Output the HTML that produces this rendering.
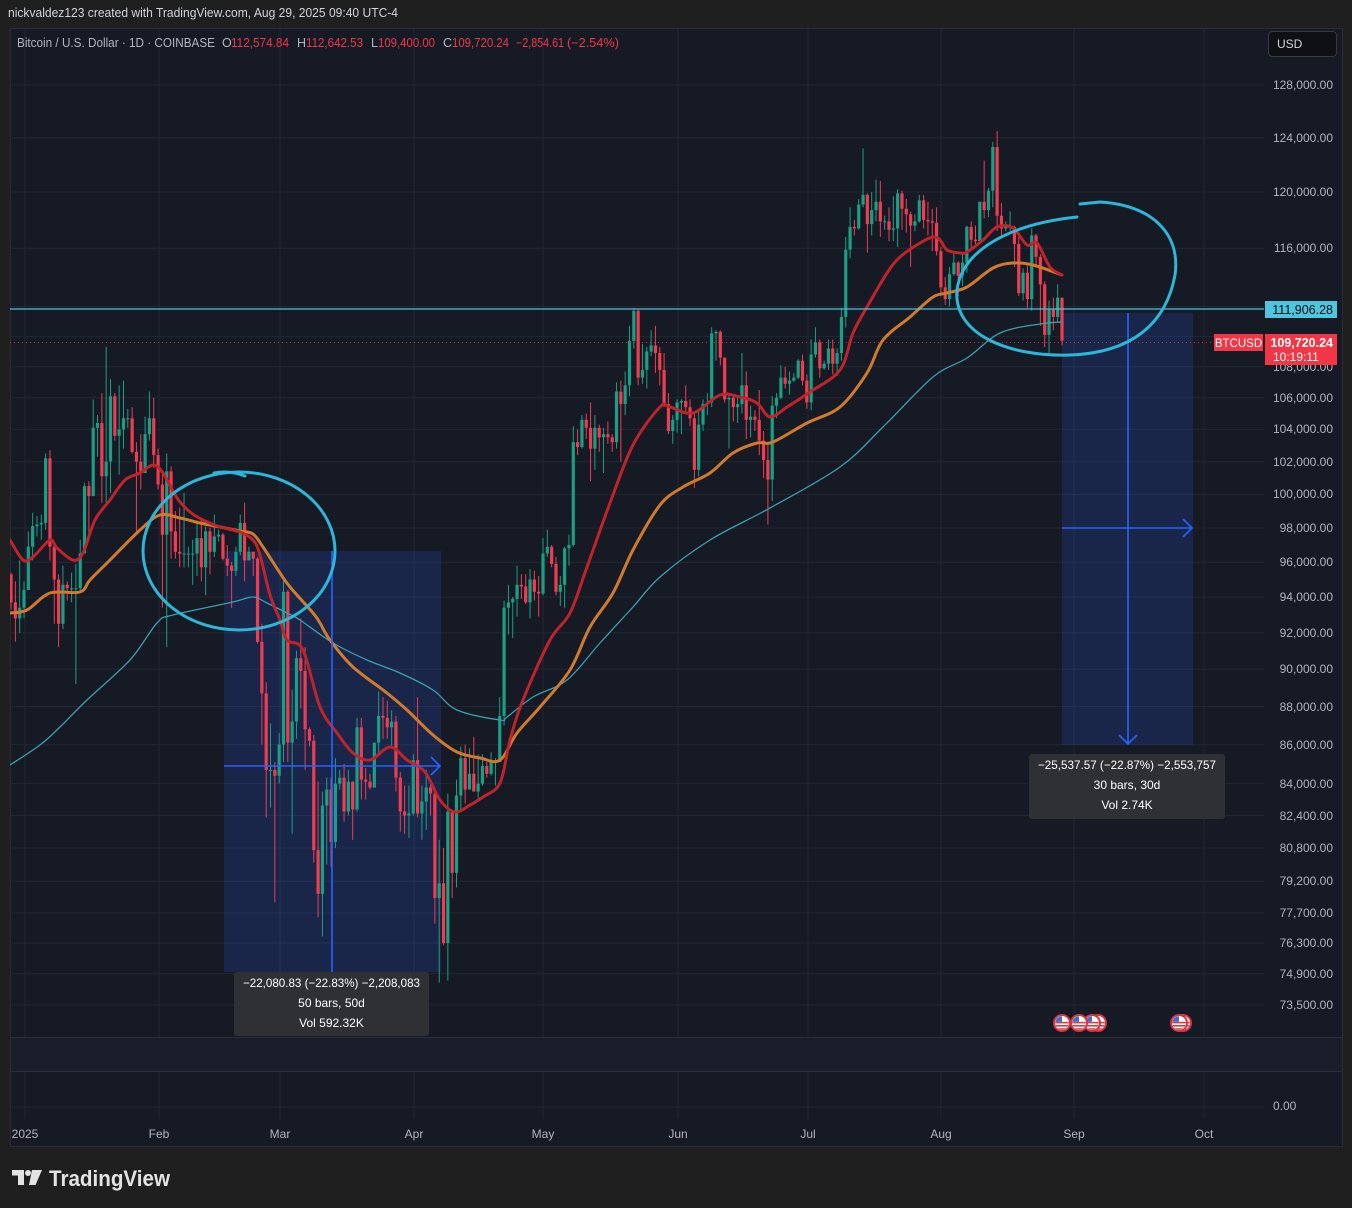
<!DOCTYPE html>
<html><head><meta charset="utf-8">
<style>
html,body{margin:0;padding:0;background:#1f1f1f;}
svg{display:block;}
text{font-family:"Liberation Sans",sans-serif;}
</style></head><body>
<svg id="s" xmlns="http://www.w3.org/2000/svg" width="1352" height="1208" viewBox="0 0 1352 1208">
<defs>
<clipPath id="cp"><rect x="10" y="29" width="1254" height="1008"/></clipPath>
<clipPath id="fc"><circle cx="0" cy="0" r="6.8"/></clipPath>
<g id="flag">
  <circle r="9" fill="#d8343f"/>
  <circle r="7" fill="#ffffff"/>
  <g clip-path="url(#fc)">
    <rect x="-7" y="-1.2" width="14" height="1.6" fill="#e03a3e"/>
    <rect x="-7" y="2" width="14" height="1.6" fill="#e03a3e"/>
    <rect x="-7" y="5.2" width="14" height="1.8" fill="#e03a3e"/>
    <rect x="-7" y="-7" width="7" height="5.8" fill="#3b6fd0"/>
  </g>
</g>
</defs>
<rect width="1352" height="1208" fill="#1f1f1f"/>
<rect x="10.5" y="28.5" width="1332" height="1118" fill="#161a25" stroke="#2a2d36" stroke-width="1"/>
<rect x="11" y="1037" width="1331" height="34" fill="#1a1e2a"/>
<line x1="11" y1="1037.5" x2="1342" y2="1037.5" stroke="#2a2e39"/>
<line x1="11" y1="1071.5" x2="1342" y2="1071.5" stroke="#2a2e39"/>
<g id="grid"></g>
<g clip-path="url(#cp)">
  <rect x="224" y="551" width="217" height="421" fill="rgba(41,98,255,0.17)"/>
  <rect x="1062" y="313" width="131" height="432" fill="rgba(41,98,255,0.17)"/>
  <g id="candles"></g>
  <g id="mas"></g>
  <line x1="10" y1="309" x2="1264" y2="309" stroke="#4ec3dc" stroke-width="1.2"/>
  <line x1="10" y1="342.5" x2="1214" y2="342.5" stroke="#f23645" stroke-width="1" stroke-dasharray="1,3" opacity="0.8"/>
  <line x1="332" y1="551" x2="332" y2="972" stroke="#2962ff" stroke-width="1.6"/>
  <line x1="224" y1="766" x2="440" y2="766" stroke="#2962ff" stroke-width="1.6"/>
  <polyline points="431,757 440,766 431,775" fill="none" stroke="#2962ff" stroke-width="1.6"/>
  <line x1="1128" y1="313" x2="1128" y2="744" stroke="#2962ff" stroke-width="1.6"/>
  <polyline points="1119,735 1128,744 1137,735" fill="none" stroke="#2962ff" stroke-width="1.6"/>
  <line x1="1062" y1="528" x2="1192" y2="528" stroke="#2962ff" stroke-width="1.6"/>
  <polyline points="1183,519 1192,528 1183,537" fill="none" stroke="#2962ff" stroke-width="1.6"/>
  <ellipse cx="239" cy="551" rx="96" ry="79" fill="none" stroke="#2eb6d8" stroke-width="3"/>
  <path d="M214,473 Q230,470 245,476" fill="none" stroke="#2eb6d8" stroke-width="3" stroke-linecap="round"/>
  <path d="M1077,217 C1010,224 962,250 957,290 C953,335 1010,357 1070,355 C1130,353 1166,325 1175,275 C1181,232 1150,205 1100,202 L1080,204" fill="none" stroke="#2eb6d8" stroke-width="3" stroke-linecap="round"/>
</g>

<rect x="234" y="972" width="195" height="64" rx="3" fill="#2f3034"/>
<text x="331.5" y="987" font-size="12" fill="#ffffff" text-anchor="middle" textLength="177" lengthAdjust="spacingAndGlyphs">−22,080.83 (−22.83%) −2,208,083</text>
<text x="331.5" y="1007" font-size="12" fill="#ffffff" text-anchor="middle">50 bars, 50d</text>
<text x="331.5" y="1027" font-size="12" fill="#ffffff" text-anchor="middle">Vol 592.32K</text>

<rect x="1029" y="754" width="196" height="65" rx="3" fill="#2f3034"/>
<text x="1127" y="769" font-size="12" fill="#ffffff" text-anchor="middle" textLength="178" lengthAdjust="spacingAndGlyphs">−25,537.57 (−22.87%) −2,553,757</text>
<text x="1127" y="789" font-size="12" fill="#ffffff" text-anchor="middle">30 bars, 30d</text>
<text x="1127" y="809" font-size="12" fill="#ffffff" text-anchor="middle">Vol 2.74K</text>

<use href="#flag" x="1098" y="1023"/>
<use href="#flag" x="1092" y="1023"/>
<use href="#flag" x="1079" y="1023"/>
<use href="#flag" x="1062" y="1023"/>
<use href="#flag" x="1183" y="1023"/>
<use href="#flag" x="1179" y="1023"/>

<text x="8" y="17" font-size="13" fill="#d1d4dc" textLength="390" lengthAdjust="spacingAndGlyphs">nickvaldez123 created with TradingView.com, Aug 29, 2025 09:40 UTC-4</text>
<g font-size="12.5">
<text x="17" y="47" fill="#b2b5be" textLength="198" lengthAdjust="spacingAndGlyphs">Bitcoin / U.S. Dollar · 1D · COINBASE</text>
<text x="222" y="47" fill="#b2b5be">O</text>
<text x="231" y="47" fill="#f23645" textLength="58" lengthAdjust="spacingAndGlyphs">112,574.84</text>
<text x="297" y="47" fill="#b2b5be">H</text>
<text x="306" y="47" fill="#f23645" textLength="57" lengthAdjust="spacingAndGlyphs">112,642.53</text>
<text x="371" y="47" fill="#b2b5be">L</text>
<text x="378" y="47" fill="#f23645" textLength="57" lengthAdjust="spacingAndGlyphs">109,400.00</text>
<text x="443" y="47" fill="#b2b5be">C</text>
<text x="452" y="47" fill="#f23645" textLength="57" lengthAdjust="spacingAndGlyphs">109,720.24</text>
<text x="516" y="47" fill="#f23645" textLength="48" lengthAdjust="spacingAndGlyphs">−2,854.61</text>
<text x="567" y="47" fill="#f23645" textLength="52" lengthAdjust="spacingAndGlyphs">(−2.54%)</text>
</g>

<rect x="1268.5" y="31.5" width="68" height="25" rx="4" fill="#0f1013" stroke="#3a3b3e"/>
<text x="1277" y="48" font-size="12" fill="#d1d4dc">USD</text>

<g font-size="12" fill="#b2b5be" text-anchor="end">
<text x="1333" y="89">128,000.00</text>
<text x="1333" y="142">124,000.00</text>
<text x="1333" y="196">120,000.00</text>
<text x="1333" y="252">116,000.00</text>
<text x="1333" y="371">108,000.00</text>
<text x="1333" y="402">106,000.00</text>
<text x="1333" y="433">104,000.00</text>
<text x="1333" y="466">102,000.00</text>
<text x="1333" y="498">100,000.00</text>
<text x="1333" y="532">98,000.00</text>
<text x="1333" y="566">96,000.00</text>
<text x="1333" y="601">94,000.00</text>
<text x="1333" y="637">92,000.00</text>
<text x="1333" y="673">90,000.00</text>
<text x="1333" y="711">88,000.00</text>
<text x="1333" y="749">86,000.00</text>
<text x="1333" y="788">84,000.00</text>
<text x="1333" y="820">82,400.00</text>
<text x="1333" y="852">80,800.00</text>
<text x="1333" y="885">79,200.00</text>
<text x="1333" y="917">77,700.00</text>
<text x="1333" y="947">76,300.00</text>
<text x="1333" y="978">74,900.00</text>
<text x="1333" y="1009">73,500.00</text>
</g>
<text x="1273" y="1110" font-size="12" fill="#b2b5be">0.00</text>

<rect x="1265" y="301" width="72" height="17" fill="#4fc6df"/>
<text x="1333" y="314" font-size="12.5" fill="#0b0e14" text-anchor="end">111,906.28</text>
<rect x="1214" y="334" width="49" height="17" fill="#f23645"/>
<text x="1238.5" y="347" font-size="11.5" fill="#ffffff" text-anchor="middle">BTCUSD</text>
<rect x="1265" y="334" width="72" height="31" fill="#f23645"/>
<text x="1333" y="347" font-size="12.5" font-weight="bold" fill="#ffffff" text-anchor="end">109,720.24</text>
<text x="1273" y="361" font-size="12" fill="#ffffff">10:19:11</text>

<g font-size="12" fill="#b2b5be" text-anchor="middle">
<text x="25" y="1138">2025</text>
<text x="159" y="1138">Feb</text>
<text x="280" y="1138">Mar</text>
<text x="414" y="1138">Apr</text>
<text x="543" y="1138">May</text>
<text x="678" y="1138">Jun</text>
<text x="808" y="1138">Jul</text>
<text x="941" y="1138">Aug</text>
<text x="1074" y="1138">Sep</text>
<text x="1204" y="1138">Oct</text>
</g>

<g fill="#e3e3e3">
<rect x="12" y="1170" width="12" height="5.5"/>
<rect x="18" y="1170" width="6" height="15"/>
<circle cx="28" cy="1173" r="3"/>
<polygon points="32,1170 42,1170 35.5,1185 29,1185"/>
</g>
<text x="49" y="1186" font-size="22" font-weight="bold" fill="#e3e3e3" textLength="121" lengthAdjust="spacingAndGlyphs">TradingView</text>
</svg>
<script>
(function(){
var NS="http://www.w3.org/2000/svg";
function el(tag,attrs,parent){var e=document.createElementNS(NS,tag);for(var k in attrs)e.setAttribute(k,attrs[k]);parent.appendChild(e);return e;}
var X0=24,DX=4.325,Y0=85,K=1658.6,P0=128;
function yv(p){return Y0+Math.log(P0/p)*K;}
var g=document.getElementById('grid');
var ys=[85,137.7,192,248.2,306.5,336.4,366.8,397.8,429.4,461.7,494.5,528,562.2,597.1,632.8,669.2,706.5,744.6,783.6,815.5,848,881.2,912.9,943,973.7,1005];
ys.forEach(function(y){el('line',{x1:10,y1:y,x2:1264,y2:y,stroke:'#232733','stroke-width':1},g);});
el('line',{x1:10,y1:1107,x2:1264,y2:1107,stroke:'#232733'},g);
[25,159,280,414,543,678,808,941,1074,1204].forEach(function(x){
 el('line',{x1:x,y1:29,x2:x,y2:1037,stroke:'#232733'},g);
 el('line',{x1:x,y1:1072,x2:x,y2:1119,stroke:'#232733'},g);
});
var raw="93.7,95.4,93.3 92.8,94.9,91.5 93.4,96.1,92.0 "+
"94.4,94.9,92.8 96.9,97.8,94.4 98.1,98.9,96.1 98.2,98.7,97.5 98.3,98.8,97.3 102.2,102.5,97.9 96.9,102.7,96.1 95.0,97.2,92.5 92.5,95.3,91.2 94.7,95.8,92.2 94.5,94.9,93.8 94.5,95.4,93.7 94.5,95.9,89.2 96.5,97.3,94.3 100.5,100.7,96.5 99.9,100.8,97.3 104.1,105.9,99.9 104.4,104.9,102.3 101.1,106.3,99.5 102.0,109.3,99.5 106.1,107.2,100.1 103.6,106.3,103.3 104.0,106.8,101.2 104.7,107.1,102.8 104.7,105.3,104.1 102.6,105.4,102.5 102.0,103.2,97.8 101.3,103.7,100.3 103.7,104.8,101.3 104.7,106.4,103.3 102.4,106.0,101.6 "+
"100.6,102.8,100.3 97.6,101.4,93.4 101.4,102.5,91.2 97.8,101.7,96.2 96.6,99.0,96.2 96.5,99.2,95.7 96.5,100.1,95.7 96.5,96.9,95.7 96.5,97.3,94.7 97.4,98.3,95.2 95.7,98.5,94.9 97.8,98.1,94.1 96.6,98.0,95.3 97.5,98.8,96.3 97.6,97.9,97.2 96.2,97.7,96.1 95.8,97.0,95.2 95.5,96.0,93.4 96.6,96.9,95.2 98.3,98.8,96.4 96.1,99.5,94.9 96.6,96.9,96.1 96.2,96.5,95.2 91.5,96.3,91.4 88.7,92.5,86.0 84.7,89.3,82.3 84.7,87.1,82.8 84.4,85.1,78.2 "+
"86.0,86.6,84.0 94.3,95.0,85.1 86.1,94.4,85.1 87.2,88.9,81.5 90.6,91.0,86.3 89.9,92.8,87.9 86.8,91.2,84.7 86.2,86.9,85.9 80.7,86.5,80.1 78.6,84.1,77.5 82.9,83.6,76.6 83.7,84.3,80.0 81.1,84.3,79.9 84.0,85.3,80.8 84.3,84.7,83.7 82.6,85.0,82.1 84.1,84.7,82.4 82.7,84.1,81.2 86.9,87.4,82.6 84.2,87.4,83.2 84.1,84.8,83.2 83.8,84.5,83.7 86.1,86.1,83.8 87.5,88.8,85.5 87.4,88.5,86.3 86.9,88.3,86.3 87.2,87.8,85.9 84.3,87.5,83.6 82.6,84.6,81.6 82.4,83.9,81.5 82.5,83.9,81.3 "+
"85.2,85.5,82.4 82.5,88.5,82.3 83.1,83.9,81.2 83.8,84.7,81.7 83.5,84.2,82.4 78.4,83.8,77.2 79.1,81.2,74.5 76.3,80.8,76.2 82.6,83.5,74.6 79.6,82.7,78.4 83.4,84.2,78.9 85.3,85.9,82.6 83.7,86.0,83.0 84.5,85.8,83.7 83.6,86.4,83.6 84.0,85.5,83.1 84.9,85.5,83.9 84.5,85.1,84.3 85.1,85.6,84.4 85.1,85.3,83.9 87.5,88.5,85.1 93.4,93.8,87.0 93.7,94.7,91.9 93.9,94.0,91.7 94.7,95.8,92.9 94.6,95.3,93.9 93.7,95.3,93.6 95.0,95.6,92.8 94.3,95.5,93.8 94.2,95.2,92.9 "+
"96.5,97.4,94.1 96.9,97.9,96.3 95.9,97.0,95.7 94.3,96.3,94.1 94.7,95.2,93.5 96.8,96.9,93.4 97.0,97.6,95.8 103.2,104.2,96.9 102.9,104.0,102.4 104.6,104.9,102.8 104.1,105.0,103.4 102.8,105.7,100.8 104.1,104.9,101.5 103.5,104.3,102.6 103.7,104.1,101.3 103.5,104.5,103.1 103.2,103.7,102.6 106.4,107.0,102.8 105.6,107.1,102.0 106.8,107.7,104.9 109.7,110.7,106.1 111.7,111.9,109.2 107.3,111.8,106.8 107.8,109.5,106.9 109.0,109.3,106.6 109.4,110.4,108.7 108.9,110.7,107.6 107.8,109.3,106.8 105.6,108.9,105.4 103.9,106.3,103.7 104.6,104.9,103.1 "+
"105.7,105.9,103.8 105.8,105.9,103.7 105.4,106.8,105.0 104.7,105.9,104.2 101.5,105.0,100.4 104.3,105.3,101.1 105.6,105.9,103.9 105.7,106.3,104.9 110.2,110.6,105.4 110.3,110.4,108.4 108.6,110.4,108.1 105.9,108.6,105.7 106.0,106.2,102.8 105.4,106.2,104.5 105.6,106.0,104.4 106.8,108.9,105.0 104.6,107.7,103.4 104.8,105.5,103.5 104.6,105.2,103.9 103.3,106.5,102.4 102.1,103.9,101.0 100.9,103.1,98.2 105.5,106.1,99.6 106.0,106.3,104.7 107.3,108.1,105.9 106.9,108.0,106.6 107.1,107.7,106.2 107.3,107.6,107.0 108.4,108.5,107.2 107.1,108.8,106.8 "+
"105.7,107.5,105.3 108.8,109.8,105.2 109.6,110.6,108.6 107.9,109.8,107.3 108.2,108.4,107.8 109.2,109.8,107.8 108.2,109.8,107.5 108.9,109.2,107.4 111.3,111.9,108.4 115.9,116.8,110.6 117.5,118.9,115.3 117.4,118.0,116.9 119.1,119.5,117.3 119.8,123.2,118.9 117.7,119.9,115.7 118.7,120.0,116.9 119.3,120.9,117.9 117.9,120.8,116.8 117.9,118.3,117.3 117.3,118.9,116.5 117.4,119.7,116.5 119.9,120.2,116.1 118.8,120.1,117.3 118.4,119.5,117.1 117.6,118.6,114.7 117.9,118.4,117.2 119.4,119.8,117.8 118.0,119.8,117.4 117.9,119.3,116.9 117.8,118.8,115.8 115.8,118.9,115.5 "+
"113.3,116.1,112.7 112.5,114.0,112.1 114.2,114.7,112.0 115.0,115.7,114.1 114.1,115.1,112.7 115.0,115.7,113.4 117.5,117.6,114.3 116.6,117.9,115.9 116.5,117.6,116.3 119.3,119.3,116.5 118.7,122.3,118.1 120.1,120.3,118.2 123.3,123.7,118.9 118.3,124.5,117.2 117.4,119.2,116.8 117.5,117.9,117.2 117.5,118.6,117.2 116.3,117.6,114.7 112.9,116.8,112.7 114.3,114.6,112.4 112.5,114.8,111.9 116.9,117.4,111.7 115.4,117.0,114.7 113.5,115.6,110.7 110.1,113.7,109.3 111.8,112.4,108.7 111.3,112.6,110.4 112.6,113.5,110.9 109.72,112.64,109.4";
var arr=raw.trim().split(/\s+/).map(function(s){return s.split(',').map(Number);});
var cg=document.getElementById('candles');
var prev=95.3;
arr.forEach(function(d,i){
  var idx=i-3;var x=X0+idx*DX;
  var o=prev,c=d[0],h=d[1],l=d[2];
  if(i===arr.length-1)o=112.57;
  h=Math.max(h,o,c);l=Math.min(l,o,c);
  var up=c>=o;var col=up?'#1b9e86':'#ee3d50';
  el('rect',{x:(x-0.5).toFixed(2),y:yv(h).toFixed(2),width:1,height:Math.max(1,yv(l)-yv(h)).toFixed(2),fill:col},cg);
  var yt=yv(Math.max(o,c)),yb=yv(Math.min(o,c));
  el('rect',{x:(x-1.6).toFixed(2),y:yt.toFixed(2),width:3.2,height:Math.max(1,yb-yt).toFixed(2),fill:col},cg);
  prev=c;
});
var mg=document.getElementById('mas');
var cyan=[[10,765],[40,745],[60,727],[87,700],[130,660],[157,623],[173,615],[233,602],[253,597],[267,603],[287,613],[300,620],[333,643],[367,660],[400,673],[433,690],[457,710],[500,720],[507,717],[533,697],[567,680],[600,643],[633,607],[660,577],[710,540],[770,508],[840,467],[883,427],[933,377],[967,358],[1000,333],[1040,324],[1062,322]];
var orange=[[10,613],[27,610],[50,593],[80,592],[90,580],[110,560],[140,530],[160,515],[180,518],[200,523],[220,527],[240,531],[253,534],[263,547],[280,573],[290,587],[313,613],[320,623],[330,640],[353,667],[387,693],[407,710],[433,735],[457,752],[480,758],[500,760],[517,733],[540,707],[570,670],[590,627],[613,593],[633,550],[660,505],[683,487],[710,473],[733,453],[757,443],[773,442],[807,423],[840,407],[867,373],[883,340],[910,317],[933,297],[947,293],[967,287],[993,268],[1013,263],[1033,265],[1062,275]];
var red=[[10,540],[23,560],[33,557],[50,540],[57,548],[73,560],[83,553],[95,520],[110,500],[125,480],[140,473],[153,465],[163,473],[177,498],[190,512],[203,520],[220,527],[240,532],[253,540],[260,555],[270,595],[280,620],[287,640],[303,650],[320,707],[337,733],[353,753],[370,760],[390,747],[407,760],[425,772],[440,800],[455,812],[470,805],[483,797],[500,783],[510,740],[523,700],[550,640],[570,613],[587,567],[610,503],[633,445],[660,407],[670,407],[693,413],[720,395],[740,397],[757,403],[770,417],[787,407],[810,392],[840,370],[853,333],[867,307],[887,273],[900,257],[920,243],[933,237],[940,240],[947,250],[960,253],[967,252],[983,240],[997,227],[1013,228],[1027,245],[1037,243],[1050,267],[1062,275]];
function smooth(p){
  var d='M'+p[0][0]+','+p[0][1];
  for(var i=0;i<p.length-1;i++){
    var p0=p[i-1]||p[i],p1=p[i],p2=p[i+1],p3=p[i+2]||p2;
    var c1x=p1[0]+(p2[0]-p0[0])/6,c1y=p1[1]+(p2[1]-p0[1])/6;
    var c2x=p2[0]-(p3[0]-p1[0])/6,c2y=p2[1]-(p3[1]-p1[1])/6;
    d+=' C'+c1x.toFixed(1)+','+c1y.toFixed(1)+' '+c2x.toFixed(1)+','+c2y.toFixed(1)+' '+p2[0]+','+p2[1];
  }
  return d;
}
function pl(pts,col,w){el('path',{d:smooth(pts),fill:'none',stroke:col,'stroke-width':w,'stroke-linejoin':'round','stroke-linecap':'round'},mg);}
pl(cyan,'#3b9fb0',1.3);
pl(orange,'#d07a2e',3);
pl(red,'#c0232a',3);
})();
</script>
</body></html>
